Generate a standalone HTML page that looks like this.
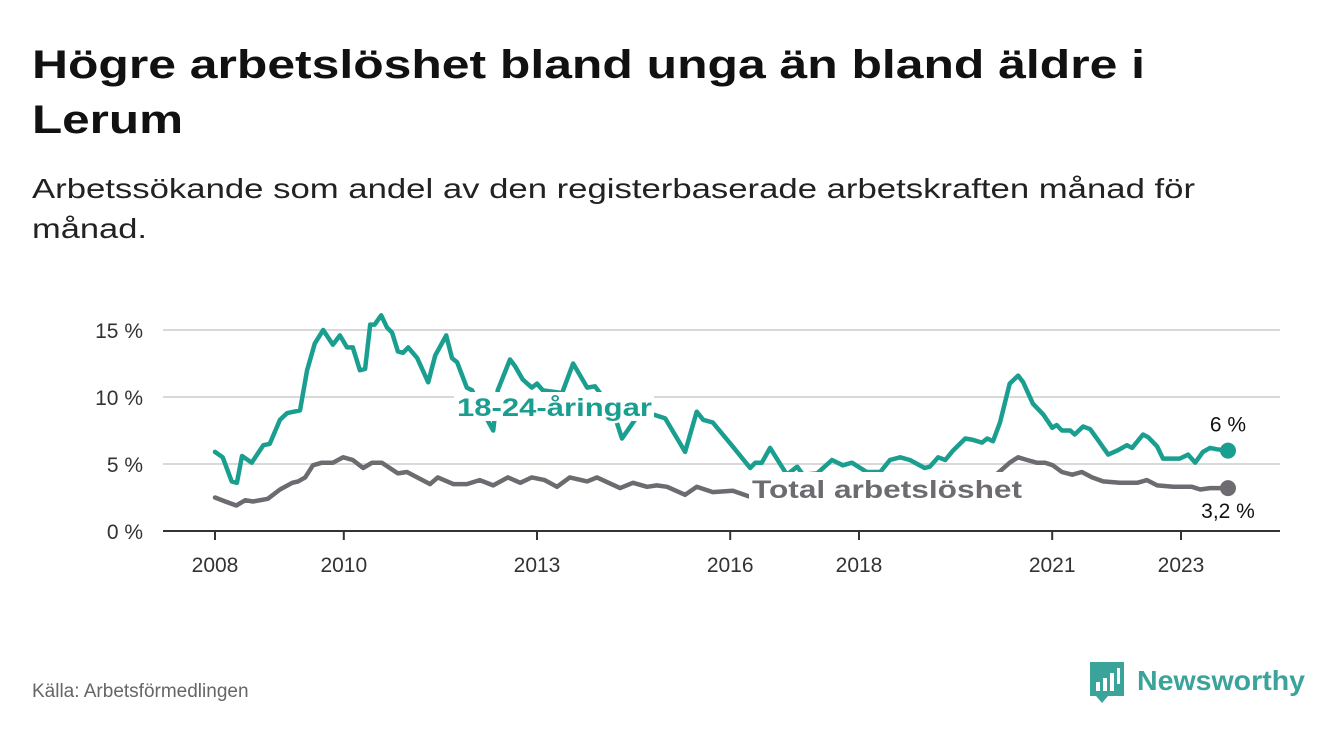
<!DOCTYPE html>
<html><head><meta charset="utf-8"><style>
html,body{margin:0;padding:0;background:#fff;}
svg{display:block;font-family:"Liberation Sans",sans-serif;}
</style></head><body>
<svg id="chart" width="1340" height="734" viewBox="0 0 1340 734">
<text x="32" y="78" font-size="40" font-weight="bold" fill="#111" textLength="1113" lengthAdjust="spacingAndGlyphs">Högre arbetslöshet bland unga än bland äldre i</text>
<text x="32" y="133" font-size="40" font-weight="bold" fill="#111" textLength="151" lengthAdjust="spacingAndGlyphs">Lerum</text>
<text x="32" y="198" font-size="28" fill="#222" textLength="1163" lengthAdjust="spacingAndGlyphs">Arbetssökande som andel av den registerbaserade arbetskraften månad för</text>
<text x="32" y="238" font-size="28" fill="#222" textLength="115" lengthAdjust="spacingAndGlyphs">månad.</text>
<g id="grid"></g>
<g id="xaxis"></g>
<g id="series"></g>
<g id="labels"></g>
<text x="32" y="697" font-size="19" fill="#666">Källa: Arbetsförmedlingen</text>
<g>
<path d="M1090 662 h34 v34 h-16 l-6 7 l-6 -7 h-6 z" fill="#3aa39a"/>
<rect x="1096" y="682" width="4" height="9" fill="#fff"/>
<rect x="1103" y="678" width="4" height="13" fill="#fff"/>
<rect x="1110" y="673" width="4" height="18" fill="#fff"/>
<rect x="1117" y="668" width="3" height="16" fill="#fff"/>
<text x="1137" y="690" font-size="28" font-weight="bold" fill="#3aa39a" textLength="168" lengthAdjust="spacingAndGlyphs">Newsworthy</text>
</g>
</svg>
<script>
const yTicks=[0,5,10,15];
const yTickLabels=["0 %","5 %","10 %","15 %"];
const xTicks=[2008,2010,2013,2016,2018,2021,2023];
const youthDates=[2008.00,2008.12,2008.26,2008.34,2008.42,2008.57,2008.75,2008.85,2009.01,2009.12,2009.32,2009.43,2009.55,2009.68,2009.83,2009.94,2010.05,2010.14,2010.25,2010.33,2010.41,2010.48,2010.58,2010.67,2010.75,2010.84,2010.92,2011.00,2011.14,2011.31,2011.42,2011.59,2011.68,2011.76,2011.91,2011.99,2012.15,2012.32,2012.39,2012.58,2012.66,2012.78,2012.92,2013.00,2013.09,2013.39,2013.56,2013.78,2013.90,2014.01,2014.15,2014.32,2014.55,2014.80,2014.99,2015.30,2015.48,2015.58,2015.73,2016.04,2016.31,2016.39,2016.49,2016.62,2016.88,2017.04,2017.13,2017.35,2017.58,2017.75,2017.89,2018.12,2018.33,2018.48,2018.64,2018.79,2019.02,2019.10,2019.23,2019.34,2019.46,2019.65,2019.77,2019.91,2019.99,2020.08,2020.19,2020.34,2020.47,2020.55,2020.70,2020.86,2021.00,2021.07,2021.15,2021.28,2021.35,2021.48,2021.59,2021.71,2021.87,2022.01,2022.16,2022.24,2022.41,2022.49,2022.63,2022.72,2022.98,2023.11,2023.22,2023.34,2023.45,2023.56,2023.73];
const youthValues=[5.9,5.5,3.7,3.6,5.6,5.1,6.4,6.5,8.3,8.8,9.0,12.0,14.0,15.0,13.9,14.6,13.7,13.7,12.0,12.1,15.4,15.4,16.1,15.2,14.8,13.4,13.3,13.7,12.9,11.1,13.1,14.6,12.9,12.6,10.7,10.5,9.0,7.5,10.5,12.8,12.3,11.3,10.7,11.0,10.5,10.3,12.5,10.7,10.8,10.1,9.4,6.9,8.5,8.7,8.4,5.9,8.9,8.3,8.1,6.3,4.7,5.1,5.1,6.2,4.2,4.8,4.2,4.3,5.3,4.9,5.1,4.4,4.4,5.3,5.5,5.3,4.7,4.8,5.5,5.3,6.0,6.9,6.8,6.6,6.9,6.7,8.1,11.0,11.6,11.1,9.5,8.7,7.7,7.9,7.5,7.5,7.2,7.8,7.6,6.8,5.7,6.0,6.4,6.2,7.2,7.0,6.3,5.4,5.4,5.7,5.1,5.9,6.2,6.1,6.0];
const totalDates=[2008.00,2008.16,2008.33,2008.47,2008.59,2008.82,2009.01,2009.20,2009.29,2009.40,2009.52,2009.66,2009.83,2009.99,2010.14,2010.30,2010.44,2010.59,2010.84,2010.98,2011.34,2011.46,2011.70,2011.91,2012.11,2012.32,2012.55,2012.74,2012.92,2013.12,2013.31,2013.51,2013.78,2013.93,2014.29,2014.49,2014.71,2014.86,2015.02,2015.30,2015.48,2015.73,2016.04,2016.34,2016.70,2017.20,2017.70,2018.20,2018.70,2019.20,2019.70,2020.00,2020.08,2020.34,2020.47,2020.61,2020.76,2020.89,2021.01,2021.15,2021.31,2021.46,2021.62,2021.79,2022.05,2022.32,2022.47,2022.63,2022.88,2023.17,2023.30,2023.45,2023.73];
const totalValues=[2.5,2.2,1.9,2.3,2.2,2.4,3.1,3.6,3.7,4.0,4.9,5.1,5.1,5.5,5.3,4.7,5.1,5.1,4.3,4.4,3.5,4.0,3.5,3.5,3.8,3.4,4.0,3.6,4.0,3.8,3.3,4.0,3.7,4.0,3.2,3.6,3.3,3.4,3.3,2.7,3.3,2.9,3.0,2.5,2.6,2.7,2.6,2.5,2.6,2.8,3.0,3.6,4.0,5.1,5.5,5.3,5.1,5.1,4.9,4.4,4.2,4.4,4.0,3.7,3.6,3.6,3.8,3.4,3.3,3.3,3.1,3.2,3.2];

const NS="http://www.w3.org/2000/svg";
const X0=163,X1=1280,YB=531;
function xs(t){return 215+(t-2008)*64.4;}
function ys(v){return YB-v*13.4;}
function mk(tag,attrs,parent){const e=document.createElementNS(NS,tag);for(const k in attrs)e.setAttribute(k,attrs[k]);parent.appendChild(e);return e;}
const grid=document.getElementById('grid');
yTicks.forEach((v,i)=>{
  if(v>0){const l=mk('line',{x1:X0,x2:X1,y1:ys(v),y2:ys(v),stroke:'#d9d9d9','stroke-width':2},grid);
  
  }
  const t=mk('text',{x:143,y:ys(v)+8,'text-anchor':'end','font-size':21,fill:'#333'},grid);
  t.textContent=yTickLabels[i];
  
  
});
const xa=document.getElementById('xaxis');
const ax=mk('line',{x1:X0,x2:X1,y1:YB,y2:YB,stroke:'#333','stroke-width':2},xa);


xTicks.forEach(y=>{
  mk('line',{x1:xs(y),x2:xs(y),y1:YB,y2:YB+9,stroke:'#333','stroke-width':2},xa);
  const t=mk('text',{x:xs(y),y:YB+41,'text-anchor':'middle','font-size':21,fill:'#333'},xa);
  t.textContent=y;
  
  
});
const sg=document.getElementById('series');
function line(d,v,color,name){
  const p=d.map((t,i)=>(i?'L':'M')+xs(t).toFixed(1)+' '+ys(v[i]).toFixed(1)).join(' ');
  const e=mk('path',{d:p,fill:'none',stroke:color,'stroke-width':4.5,'stroke-linejoin':'round','stroke-linecap':'round'},sg);
  
  
  const n=d.length-1;
  const c=mk('circle',{cx:xs(d[n]),cy:ys(v[n]),r:8,fill:color},sg);
  
  
}
line(totalDates,totalValues,'#6d6b70','total-line');
line(youthDates,youthValues,'#1a9e8f','youth-line');
const lg=document.getElementById('labels');
mk('rect',{x:454,y:392,width:200,height:29,fill:'#fff'},lg);
mk('rect',{x:749,y:472,width:277,height:30,fill:'#fff'},lg);
function lab(x,y,txt,color,name,bold,anchor,tl){
  const t=mk('text',{x:x,y:y,'font-size':bold?25:21,'font-weight':bold?'bold':'normal',fill:color,'text-anchor':anchor||'start',stroke:'#fff','stroke-width':5,'paint-order':'stroke'},lg);
  if(tl){t.setAttribute('textLength',tl);t.setAttribute('lengthAdjust','spacingAndGlyphs');}
  t.textContent=txt;
  
  
}
lab(457,416,'18-24-åringar','#1a9e8f','youth-series-label',true,'start',195);
lab(752,498,'Total arbetslöshet','#6d6b70','total-series-label',true,'start',270);
const nY=youthValues.length-1,nT=totalValues.length-1;
lab(xs(youthDates[nY]),ys(youthValues[nY])-19,String(youthValues[nY]).replace('.',',')+' %','#111','youth-end-value',false,'middle');
lab(xs(totalDates[nT]),ys(totalValues[nT])+30,String(totalValues[nT]).replace('.',',')+' %','#111','total-end-value',false,'middle');
</script>
</body></html>
